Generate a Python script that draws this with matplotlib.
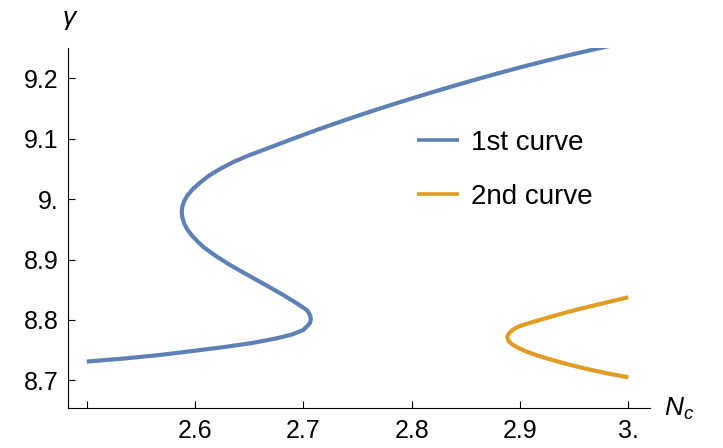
#!/usr/bin/env python3
"""Two bifurcation branches gamma(N_c), Mathematica-like styling."""

import matplotlib
matplotlib.use("Agg")
import matplotlib.pyplot as plt

# 1st curve (S-shaped branch)
nc_1 = [2.500, 2.534, 2.568, 2.600, 2.629, 2.653, 2.6754, 2.689, 2.6999, 2.7046, 2.7061,
        2.7069, 2.7063, 2.705, 2.7031, 2.6939, 2.6815, 2.668, 2.654, 2.642, 2.6296, 2.6183,
        2.6075, 2.6023, 2.5970, 2.5928, 2.5899, 2.5882, 2.5877, 2.5883, 2.5900, 2.5929,
        2.5976, 2.6050, 2.6137, 2.624, 2.6359, 2.6496, 2.669, 2.689, 2.705, 2.722, 2.740,
        2.759, 2.779, 2.800, 2.820, 2.841, 2.861, 2.882, 2.902, 2.922, 2.943, 2.965, 2.990]
gamma_1 = [8.731, 8.736, 8.742, 8.749, 8.7556, 8.7618, 8.7695, 8.7755, 8.7833, 8.7916, 8.795,
           8.801, 8.807, 8.812, 8.8164, 8.8275, 8.8412, 8.855, 8.869, 8.881, 8.894, 8.907,
           8.921, 8.930, 8.940, 8.950, 8.960, 8.970, 8.979, 8.988, 8.997, 9.006,
           9.016, 9.028, 9.040, 9.051, 9.062, 9.0725, 9.0855, 9.0992, 9.1098, 9.1207, 9.1319,
           9.1433, 9.1549, 9.1667, 9.1776, 9.1887, 9.1990, 9.2095, 9.2191, 9.2283, 9.2375, 9.2467, 9.2567]

# 2nd curve (fold branch on the right)
nc_2 = [3.000, 2.987, 2.9739, 2.958, 2.9431, 2.930, 2.9185, 2.909, 2.9035, 2.8984, 2.8948,
        2.8912, 2.8891, 2.8883, 2.8892, 2.8904, 2.8924, 2.8967, 2.9062, 2.916, 2.9277,
        2.941, 2.9554, 2.968, 2.980, 2.990, 3.000]
gamma_2 = [8.8374, 8.832, 8.8263, 8.8194, 8.8126, 8.806, 8.8000, 8.7950, 8.7920, 8.7887, 8.7852,
           8.7805, 8.7762, 8.7712, 8.766, 8.7632, 8.7601, 8.7552, 8.7474, 8.7410, 8.7348,
           8.7280, 8.7215, 8.7163, 8.7116, 8.7083, 8.7050]

x_ticks = [2.5, 2.6, 2.7, 2.8, 2.9, 3.0]
x_tick_labels = ["", "2.6", "2.7", "2.8", "2.9", "3."]
y_ticks = [8.7, 8.8, 8.9, 9.0, 9.1, 9.2]
y_tick_labels = ["8.7", "8.8", "8.9", "9.", "9.1", "9.2"]

BLUE = "#5E81B5"
ORANGE = "#E19C24"

plt.rcParams.update(
    {
        "font.family": ["Liberation Sans", "DejaVu Sans"],
        "mathtext.fontset": "custom",
        "mathtext.it": "Liberation Sans:italic",
        "mathtext.rm": "Liberation Sans",
    }
)

fig = plt.figure(figsize=(7.23, 4.48), dpi=100)
ax = fig.add_axes([0.0945, 0.0886, 0.8045, 0.8034])

ax.plot(nc_1, gamma_1, color=BLUE, linewidth=3.0, solid_joinstyle="round",
        solid_capstyle="butt", label="1st curve")
ax.plot(nc_2, gamma_2, color=ORANGE, linewidth=3.0, solid_joinstyle="round",
        solid_capstyle="butt", label="2nd curve")

ax.set_xlim(2.483, 3.020)
ax.set_ylim(8.6536, 9.2497)

ax.set_xticks(x_ticks)
ax.set_xticklabels(x_tick_labels)
ax.set_yticks(y_ticks)
ax.set_yticklabels(y_tick_labels)
ax.tick_params(axis="both", direction="in", length=5, width=0.8, labelsize=18, colors="black")
ax.tick_params(axis="y", pad=7)
ax.tick_params(axis="x", pad=8)

for spine in ("top", "right"):
    ax.spines[spine].set_visible(False)
for spine in ("left", "bottom"):
    ax.spines[spine].set_linewidth(0.8)

fig.text(0.0968, 0.955, r"$\gamma$", fontsize=19, ha="center", va="center")
fig.text(0.918, 0.087, r"$N_c$", fontsize=19, ha="left", va="center")

leg = ax.legend(
    loc="upper left",
    bbox_to_anchor=(0.5565, 0.843),
    frameon=False,
    fontsize=20,
    handlelength=1.5,
    handletextpad=0.45,
    labelspacing=1.0,
)
for line in leg.get_lines():
    line.set_linewidth(2.6)

fig.savefig("out.png", dpi=100)
plt.close(fig)
